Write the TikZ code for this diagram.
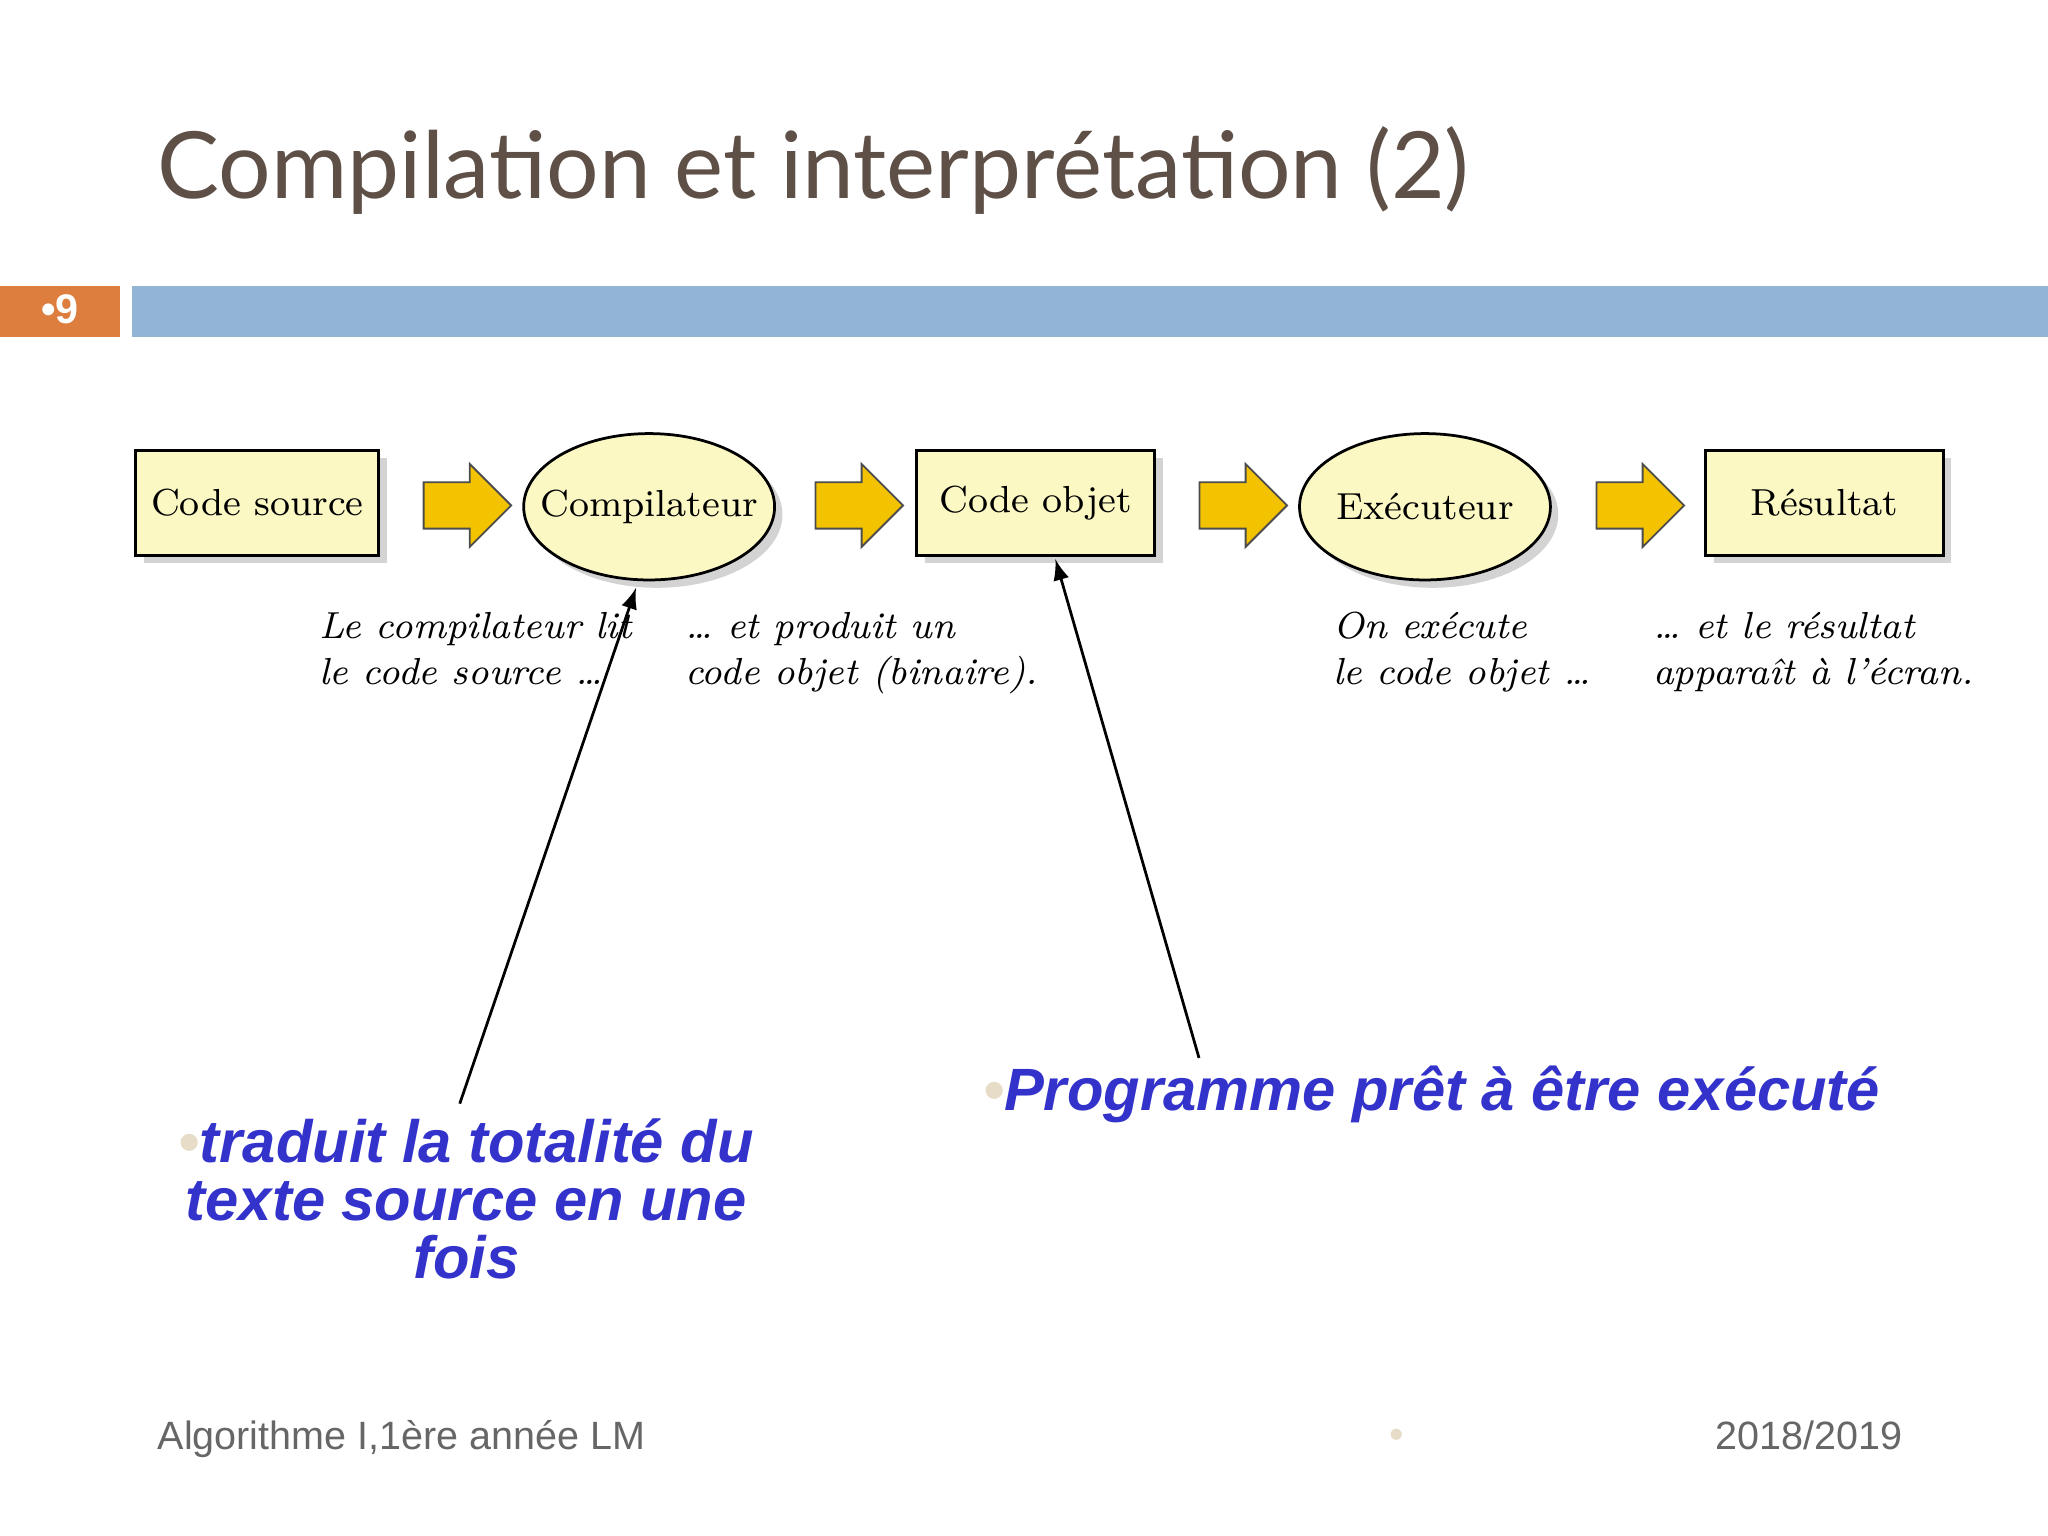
\documentclass[tikz,border=0pt]{standalone}
\usepackage{fontspec}
\newfontfamily\titlefont{Lato}
\newfontfamily\arialfont{Liberation Sans}
\usetikzlibrary{shapes.geometric,shapes.arrows,shadows}
\definecolor{boxfill}{HTML}{FBF8C4}
\definecolor{arrfill}{HTML}{F3C300}
\definecolor{titlec}{HTML}{5E4F47}
\definecolor{barblue}{HTML}{93B5D5}
\definecolor{barorange}{HTML}{DD7D3E}
\definecolor{bluetxt}{HTML}{3333CC}
\definecolor{bullet}{HTML}{E6DCC8}
\tikzset{
  rbox/.style={draw=black, line width=0.6pt, fill=boxfill, minimum width=1.82cm, minimum height=0.8cm, font=\fontsize{8.2}{10}\selectfont, drop shadow={shadow xshift=0.6mm, shadow yshift=-0.6mm, opacity=0.35}},
  ebox/.style={ellipse, draw=black, line width=0.6pt, fill=boxfill, minimum width=1.92cm, minimum height=1.12cm, inner sep=0pt, font=\fontsize{8.2}{10}\selectfont, drop shadow={shadow xshift=0.6mm, shadow yshift=-0.6mm, opacity=0.35}},
  barrow/.style={single arrow, draw=black!70, line width=0.4pt, fill=arrfill, minimum width=0.62cm, single arrow head extend=0.14cm, minimum height=0.67cm, inner xsep=0pt, inner ysep=0.17cm},
  capt/.style={align=left, anchor=north west, font=\itshape\fontsize{8.2}{10}\selectfont, inner sep=0pt},
  bluet/.style={font=\arialfont\bfseries\itshape\fontsize{13}{12.6}\selectfont, text=bluetxt, inner sep=0pt},
  ptr/.style={-latex, line width=0.6pt}
}
\begin{document}
\begin{tikzpicture}[x=0.01cm,y=-0.01cm]
\useasboundingbox (0,0) rectangle (1568,1176);
\node[anchor=base west, inner sep=0pt, text=titlec, font=\titlefont\fontsize{20.2}{24}\selectfont] (title) at (120,152) {Compilation et interprétation (2)};
\fill[barorange] (0,219) rectangle (92,258);
\fill[barblue] (101,219) rectangle (1568,258);
\node[text=white, font=\arialfont\bfseries\fontsize{9}{10}\selectfont] (num) at (46,237) {\textbullet9};

\node[rbox] (cs) at (197,385) {Code source};
\node[ebox] (comp) at (497,388) {\makebox[0pt]{Compilateur}};
\node[rbox] (co) at (793,385) {Code objet};
\node[ebox] (exe) at (1091,388) {\makebox[0pt]{Exécuteur}};
\node[rbox] (res) at (1397,385) {Résultat};

\node[barrow] (a1) at (349,387) {};
\node[barrow] (a2) at (649,387) {};
\node[barrow] (a3) at (943,387) {};
\node[barrow] (a4) at (1247,387) {};

\node[capt] (c1) at (244,468) {Le compilateur lit\\le code source \dots};
\node[capt] (c2) at (524,468) {\dots\ et produit un\\code objet (binaire).};
\node[capt] (c3) at (1020,468) {On exécute\\le code objet \dots};
\node[capt] (c4) at (1265,468) {\dots\ et le résultat\\apparaît à l'écran.};

\coordinate (p1) at (352,845);
\coordinate (p1e) at (487,450);
\coordinate (p2) at (918,810);
\coordinate (p2e) at (808,428);
\draw[ptr] (p1) -- (p1e);
\draw[ptr] (p2) -- (p2e);

\node[bluet, align=center] (t1) at (357,918) {\textcolor{bullet}{\textbullet}traduit la totalité du\\texte source en une\\fois};
\node[bluet, anchor=west] (t2) at (752,838) {\textcolor{bullet}{\textbullet}Programme prêt à être exécuté};

\node[anchor=base west, inner sep=0pt, text=black!60, font=\arialfont\fontsize{8.6}{10}\selectfont] (f1) at (120,1110) {Algorithme I,1ère année LM};
\node[text=bullet, font=\arialfont\fontsize{9}{10}\selectfont] (f2) at (1069,1102) {\textbullet};
\node[anchor=base east, inner sep=0pt, text=black!60, font=\arialfont\fontsize{8.6}{10}\selectfont] (f3) at (1457,1110) {2018/2019};
\end{tikzpicture}
\end{document}
